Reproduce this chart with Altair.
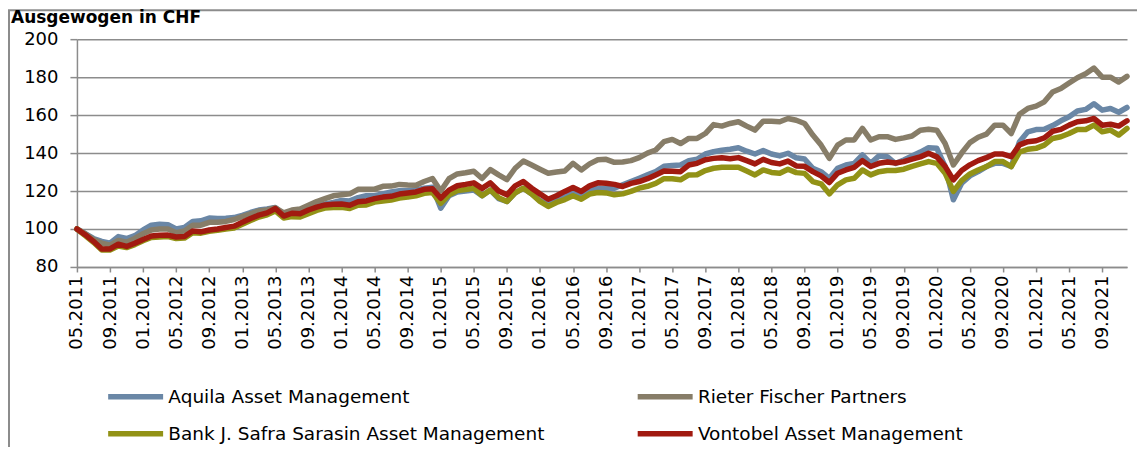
import altair as alt
import pandas as pd

title_text = "Ausgewogen in CHF"
series_names = [
    "Aquila Asset Management",
    "Rieter Fischer Partners",
    "Bank J. Safra Sarasin Asset Management",
    "Vontobel Asset Management",
]
colors = ["#6A87A6", "#877D68", "#929216", "#A11A10"]

# monthly categories 05.2011 .. 12.2021
months = pd.date_range("2011-05-01", "2021-12-01", freq="MS").strftime("%m.%Y").tolist()
tick_labels = months[::4]
y_ticks = [80, 100, 120, 140, 160, 180, 200]

aquila = [
    100, 97.5, 95, 93.5, 92.5, 96, 95, 96.5, 99.5, 102,
    102.5, 102.3, 100, 100.8, 104, 104.3, 105.8, 105.5, 105.7, 106,
    107.2, 108.7, 110, 110.5, 111.3, 107.8, 108.5, 109, 111, 112.5,
    113.2, 114, 115, 114.8, 116.5, 117.5, 117.5, 118.5, 119.5, 120.2,
    120.3, 120.5, 121.5, 122, 111, 117.5, 119.5, 120, 120.5, 117.5,
    120.5, 116, 114.5, 119, 121.5, 118.5, 115, 112.8, 115, 117,
    119.2, 118, 120.6, 121.5, 121.3, 121.5, 123.3, 125, 126.7, 128.5,
    130.2, 133, 133.5, 133.7, 136, 136.7, 139.5, 140.7, 141.5, 142,
    142.8, 141, 139.5, 141.3, 139.5, 138.5, 139.9, 137.5, 136.9, 132,
    130.2, 126.7, 132, 133.7, 134.6, 139, 134.6, 138.5, 138.1, 134.5,
    136.4, 138.5, 140.5, 142.8, 142.5, 133, 115.4, 124.1, 128, 130.2,
    132.9, 134.6, 134.6, 132.9, 146, 151.2, 152.4, 152.5, 154.5, 157,
    159.1, 162.2, 163, 166, 162.6, 163.5, 161.5, 164,
]
rieter = [
    100, 97.5, 94.5, 92.5, 91.5, 94, 93, 95, 97.5, 99.5,
    100, 100, 98, 99, 102, 102, 103.5, 103.5, 104, 105,
    106.5, 108, 109.5, 110, 111.2, 108.5, 110, 110.5, 112.5, 114.5,
    116, 117.5, 118, 118.5, 120.9, 121, 121, 122.5, 122.6, 123.5,
    123.2, 123.1, 125, 126.6, 120, 126.5, 129, 129.6, 130.4, 126.6,
    131.3, 128.5, 126, 132, 135.8, 133.7, 131.5, 129.4, 130, 130.6,
    134.6, 131.1, 134.3, 136.5, 136.7, 135.1, 135.3, 136, 137.6, 140,
    141.6, 146, 147.2, 145, 147.7, 147.7, 150.3, 155, 154.2, 155.6,
    156.5, 154.2, 152.1, 156.8, 156.7, 156.5, 158.2, 157.3, 155.6, 149.5,
    144.2, 137.2, 144.2, 146.9, 146.9, 153, 146.9, 148.6, 148.6, 147.2,
    148, 149, 152, 152.5, 152, 145, 133.7, 140, 145.5, 148.3,
    150, 154.7, 154.7, 150.3, 160.5, 163.5, 164.7, 167, 172.2, 174,
    176.9, 179.7, 181.8, 184.8, 180, 180, 177.4, 180.4,
]
safra = [
    100, 96.5, 93, 89, 89, 91, 90.2, 91.8, 93.8, 95.5,
    95.8, 96, 95, 95.2, 98, 97.8, 98.8, 99.3, 100, 100.5,
    102.5, 104.5, 106.3, 107.5, 109.5, 105.8, 106.5, 106.3, 108, 109.8,
    111, 111.3, 111.5, 110.8, 112.5, 112.7, 114.2, 114.8, 115.3, 116.3,
    116.8, 117.5, 118.8, 119.2, 113.5, 118, 120.2, 120.8, 121.5, 117.5,
    120.5, 116.5, 114.5, 119, 121.5, 118.5, 114.5, 111.9, 114, 115.5,
    117.5, 115.7, 118.4, 119.2, 119, 118, 118.5, 119.8, 121.5, 122.5,
    124, 126.5, 126.5, 125.9, 128.5, 128.6, 130.8, 132, 132.5, 132.5,
    132.5, 130.5, 128.5, 131.1, 129.8, 129.4, 131.5, 129.7, 129.3, 125,
    123.8, 118.5, 123.3, 125.9, 126.7, 131.1, 128.5, 130.2, 130.8, 130.8,
    131.5, 133, 134.3, 135.5, 134.6, 129.4, 119.8, 125.5, 129, 131.1,
    132.9, 135.5, 135.5, 132.9, 140.5, 142, 142.5, 144.2, 147.7, 148.6,
    150.3, 152.4, 152.4, 154.7, 151.2, 152.1, 149.5, 153,
]
vontobel = [
    100, 97, 93.5, 89.5, 89.5, 92, 90.8, 92.5, 94.5, 96.3,
    96.7, 96.8, 95.8, 96, 99, 98.5, 99.5, 100, 100.8, 101.5,
    103.5, 105.5, 107.3, 108.5, 110.8, 106.8, 108.3, 108, 110, 111.5,
    112.7, 113, 113.2, 112.5, 114.4, 114.8, 116, 116.8, 117.2, 118.4,
    119, 119.5, 120.9, 121.2, 116.2, 120.5, 122.8, 123.5, 124.3, 121.4,
    124.3, 120, 118, 122.7, 125, 121.5, 118.5, 115.7, 117.5, 119.8,
    121.9, 119.8, 122.7, 124.3, 124.1, 123.5, 122.4, 124, 125, 126.5,
    128.5, 130.6, 130.4, 130.2, 133.7, 134.6, 136.5, 137.2, 137.5, 137,
    137.6, 136, 134.3, 136.7, 135, 134.3, 135.8, 133.2, 133, 130.2,
    128, 124.5, 129.4, 131.1, 132.5, 136, 132.9, 134.6, 135.3, 134.8,
    135.5, 136.8, 138, 139.9, 138, 133, 125.9, 130.8, 133.8, 136,
    137.6, 139.5, 139.5, 138.1, 144.3, 146, 146.5, 148, 151.5, 152.5,
    154.7, 156.5, 157, 158.2, 154.7, 155.2, 154.2, 157,
]

all_series = [aquila, rieter, safra, vontobel]
rows = []
for name, vals in zip(series_names, all_series):
    for m, v in zip(months, vals):
        rows.append({"month": m, "series": name, "value": v})
df = pd.DataFrame(rows)

FONT = "DejaVu Sans"
GRID = "#8c8c8c"
W, H = 1051, 228

lines = alt.Chart(df).mark_line(strokeWidth=5.5, strokeJoin="round", strokeCap="round").encode(
    x=alt.X(
        "month:O",
        sort=months,
        scale=alt.Scale(type="point", padding=0),
        axis=alt.Axis(
            values=tick_labels, labelAngle=270, labelFontSize=18, labelFont=FONT,
            labelColor="black", labelPadding=3, tickSize=5, tickColor=GRID, tickWidth=1.5,
            domainColor=GRID, domainWidth=1.5, grid=False, title=None, labelOverlap=False,
        ),
    ),
    y=alt.Y(
        "value:Q",
        scale=alt.Scale(domain=[80, 200], nice=False, zero=False),
        axis=alt.Axis(
            values=y_ticks, labelFontSize=18, labelFont=FONT, labelColor="black",
            labelPadding=12, tickSize=7, tickColor=GRID, tickWidth=1.5,
            domainColor=GRID, domainWidth=1.5, grid=True, gridColor=GRID, gridWidth=1.5,
            title=None,
        ),
    ),
    color=alt.Color(
        "series:N",
        scale=alt.Scale(domain=series_names, range=colors),
        legend=alt.Legend(
            orient="none", legendX=31, legendY=348, columns=2, direction="horizontal",
            title=None, symbolType="M-1.393,0H6.464", symbolStrokeWidth=5.5, symbolSize=196,
            labelFontSize=18.5, labelFont=FONT, labelColor="black", labelOffset=40.5,
            columnPadding=81, rowPadding=15, padding=0, labelLimit=600,
        ),
    ),
)

one = pd.DataFrame({"k": [0]})
frame_left = alt.Chart(one).mark_rule(color=GRID, strokeWidth=2).encode(
    x=alt.value(-68), y=alt.value(-29), y2=alt.value(410)
)
frame_top = alt.Chart(one).mark_rule(color=GRID, strokeWidth=2).encode(
    x=alt.value(-69), x2=alt.value(1062), y=alt.value(-29)
)
title = alt.Chart(one).mark_text(
    font=FONT, fontSize=17, fontWeight="bold", align="left", baseline="alphabetic", color="black"
).encode(x=alt.value(-66), y=alt.value(-16), text=alt.value(title_text))

chart = alt.layer(frame_left, frame_top, title, lines).properties(
    width=W, height=H,
    autosize=alt.AutoSizeParams(type="none"),
    padding={"left": 69, "top": 31, "right": 10, "bottom": 180},
).configure_view(stroke=None)

chart.save("out.html", embed_options={"renderer": "svg", "actions": False})
